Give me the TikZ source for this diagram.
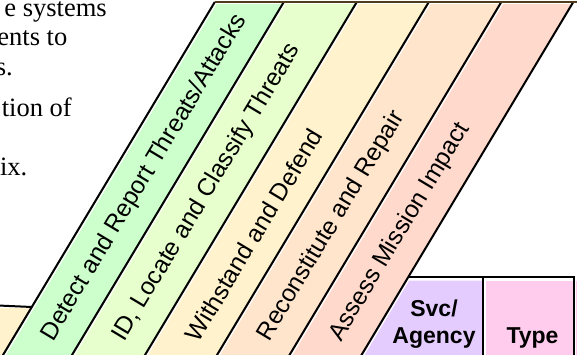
\documentclass[tikz,border=0pt]{standalone}
\usepackage{fontspec}
\setmainfont{Liberation Serif}
\newfontfamily\arialfont{Liberation Sans}
\newfontfamily\timesfont{Liberation Serif}
\definecolor{cGreen}{HTML}{CCFFCC}
\definecolor{cLime}{HTML}{E6FFCC}
\definecolor{cCream}{HTML}{FFF2CC}
\definecolor{cPeach}{HTML}{FFE5CC}
\definecolor{cSalmon}{HTML}{FFDACC}
\definecolor{cLav}{HTML}{E5CCFF}
\definecolor{cPink}{HTML}{FFCCEE}
\definecolor{cTop}{HTML}{4D3D1A}
\newcommand{\bodyfnt}{\timesfont\fontsize{26.5pt}{30pt}\selectfont}
\newcommand{\stripfnt}{\arialfont\fontsize{24.5pt}{28pt}\selectfont}
\newcommand{\headfnt}{\arialfont\bfseries\fontsize{23pt}{27pt}\selectfont}
\tikzset{
  edge/.style={black, line width=2pt},
  gap/.style={white, line width=1.3pt},
  striptext/.style={font=\stripfnt, rotate=59, anchor=west, inner sep=0pt},
  headtext/.style={font=\headfnt, anchor=base, inner sep=0pt},
  bodytext/.style={font=\bodyfnt, anchor=base east, inner sep=0pt}
}
\begin{document}
\begin{tikzpicture}[x=1pt,y=-1pt]
\path[use as bounding box] (0,0) rectangle (577,355);
\clip (0,0) rectangle (577,355);
% strip boundary lines: bottom (y=360) and top (y=2)
\coordinate (B0) at (0,360);     \coordinate (T0) at (214.8,2);
\coordinate (B1) at (69,360);    \coordinate (T1) at (283.8,2);
\coordinate (B2) at (142,360);   \coordinate (T2) at (356.8,2);
\coordinate (B3) at (214,360);   \coordinate (T3) at (428.8,2);
\coordinate (B4) at (286.5,360); \coordinate (T4) at (501.3,2);
\coordinate (B5) at (358.5,360); \coordinate (T5) at (573.3,2);
\coordinate (S5) at (408.3,277);
\coordinate (C0) at (31.8,307);
% fills
\fill[cGreen]  (B0) -- (T0) -- (T1) -- (B1) -- cycle;
\fill[cLime]   (B1) -- (T1) -- (T2) -- (B2) -- cycle;
\fill[cCream]  (B2) -- (T2) -- (T3) -- (B3) -- cycle;
\fill[cPeach]  (B3) -- (T3) -- (T4) -- (B4) -- cycle;
\fill[cSalmon] (B4) -- (T4) -- (T5) -- (B5) -- cycle;
\fill[cLav] (406.5,280.5) -- (483,280.5) -- (483,360) -- (B5) -- cycle;
\fill[cPink] (486,281) rectangle (573,360);
\fill[cPink] (575.5,281) rectangle (580,360);
\fill[cCream] (-2,308) -- (30.6,308) -- (B0) -- (-2,360) -- cycle;
% white slivers right of lines
\foreach \i in {0,...,5} {
  \draw[gap] ([xshift=2.2pt]B\i) -- ([xshift=2.2pt]T\i);
}
\draw[gap] (214.8,3.6) -- (580,3.6);
% black lines
\foreach \i in {0,...,5} {
  \draw[edge] (B\i) -- (T\i);
}
\draw[cTop, line width=2.4pt] (T0) -- (580,2);
\draw[edge] (S5) -- (574,277);
\draw[edge] (483,277) -- (483,360);
\draw[edge] (573.5,276) -- (573.5,360);
\draw[edge] (-2,305.5) -- (C0);
% rotated labels
\node[striptext] (t0) at (47.7,339) {Detect and Report Threats/Attacks};
\node[striptext] (t1) at (118.7,339) {ID, Locate and Classify Threats};
\node[striptext] (t2) at (191.2,339) {Withstand and Defend};
\node[striptext] (t3) at (263.5,339) {Reconstitute and Repair};
\node[striptext] (t4) at (335.7,339) {Assess Mission Impact};
% header boxes
\node[headtext] (svc1) at (434,316) {Svc/};
\node[headtext] (svc2) at (434,343) {Agency};
\node[headtext] (type) at (532.5,343) {Type};
% body text (cut off at left)
\node[bodytext] (p1) at (107,16.7) {e systems};
\node[bodytext] (p2) at (67.5,46) {ents to};
\node[bodytext] (p3) at (13,75.3) {s.};
\node[bodytext] (p4) at (72,117) {tion of};
\node[bodytext] (p5) at (27.5,176) {ix.};
\end{tikzpicture}
\end{document}
